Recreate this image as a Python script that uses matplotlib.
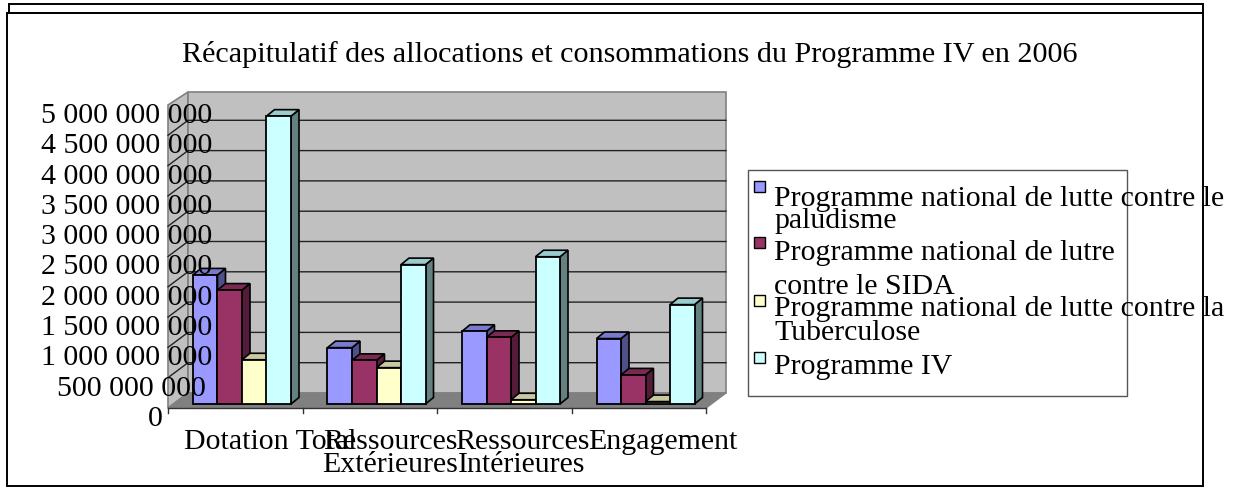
import matplotlib
matplotlib.use("Agg")
import matplotlib.pyplot as plt
from matplotlib.patches import Polygon, Rectangle
from matplotlib.transforms import ScaledTranslation

plt.rcParams.update({"font.family": "Liberation Serif"})

W, H = 1234, 488

title = "Récapitulatif des allocations et consommations du Programme IV en 2006"
categories = ["Dotation Total", "Ressources\nExtérieures", "Ressources\nIntérieures", "Engagement"]
paludisme = [2.13e9, 0.93e9, 1.20e9, 1.08e9]
sida = [1.88e9, 0.72e9, 1.10e9, 0.48e9]
tuberculose = [0.73e9, 0.60e9, 0.07e9, 0.04e9]
programme_iv = [4.75e9, 2.30e9, 2.43e9, 1.64e9]
y_ticks = [0, 5e8, 1e9, 1.5e9, 2e9, 2.5e9, 3e9, 3.5e9, 4e9, 4.5e9, 5e9]
y_labels = ["0", "500 000 000", "1 000 000 000", "1 500 000 000", "2 000 000 000", "2 500 000 000",
            "3 000 000 000", "3 500 000 000", "4 000 000 000", "4 500 000 000", "5 000 000 000"]

faces = ["#9999ff", "#993366", "#ffffcc", "#ccffff"]
sides = ["#4f4f8a", "#541c38", "#8c8c70", "#658080"]
tops = ["#7a7acc", "#7a2952", "#c9c9a0", "#99cccc"]


def fx(px):
    return px / W


def fy(py):
    return 1 - py / H


fig = plt.figure(figsize=(W / 100, H / 100), dpi=100)
ax_left, ax_right, ax_top, ax_bottom = 168, 706, 105, 408
ax = fig.add_axes([fx(ax_left), fy(ax_bottom), (ax_right - ax_left) / W, (ax_bottom - ax_top) / H])
ax.set_xlim(-0.5, 3.5)
ax.set_ylim(0, 5e9)
ax.patch.set_visible(False)
for s in ax.spines.values():
    s.set_visible(False)

# one pixel in data units
ux = 4 / (ax_right - ax_left)
uy = 5e9 / (ax_bottom - ax_top)
depth_x, depth_y = 20 * ux, 15 * uy

# walls and floor
ax.add_patch(Polygon([(-0.5, 0), (-0.5 + depth_x, depth_y), (-0.5 + depth_x, 5e9 + 13 * uy), (-0.5, 5e9)],
                     fc="#c0c0c0", ec="#808080", lw=1.2, clip_on=False, zorder=1))
ax.add_patch(Rectangle((-0.5 + depth_x, depth_y), 4, 5e9 - 2 * uy, fc="#c0c0c0", ec="#808080", lw=1.2,
                       clip_on=False, zorder=1))
ax.add_patch(Polygon([(-0.5, 0), (-0.5 + depth_x, depth_y), (3.5 + depth_x, depth_y), (3.5, 0)],
                     fc="#808080", ec="#808080", lw=1, clip_on=False, zorder=1))

# gridlines on the back wall and slanted ticks on the side wall
for v in y_ticks[1:-1]:
    ax.plot([-0.5, -0.5 + depth_x, 3.5 + depth_x], [v, v + depth_y, v + depth_y], color="#222222", lw=1,
            clip_on=False, zorder=1.2)

# floor front edge and category ticks
ax.plot([-0.5, 3.5], [0, 0], color="#333333", lw=1, clip_on=False, zorder=1.3)
for i in range(5):
    ax.plot([i - 0.5, i - 0.5], [0, -5 * uy], color="#333333", lw=1, clip_on=False, zorder=1.3)

# bars, painted left to right so the next bar hides the side of the previous one
bar_w = 24.5 * ux
bar_dx, bar_dy = 8 * ux, 6.5 * uy
base = 4 * uy
start = 25 * ux
all_series = [paludisme, sida, tuberculose, programme_iv]
for k, vals in enumerate(all_series):
    xs = [i - 0.5 + start + k * bar_w for i in range(len(vals))]
    for x0, v in zip(xs, vals):
        x1 = x0 + bar_w
        top = base + v
        ax.add_patch(Polygon([(x1, base), (x1 + bar_dx, base + bar_dy), (x1 + bar_dx, top + bar_dy), (x1, top)],
                             fc=sides[k], ec="black", lw=1.2, clip_on=False, zorder=2))
        ax.add_patch(Polygon([(x0, top), (x0 + bar_dx, top + bar_dy), (x1 + bar_dx, top + bar_dy), (x1, top)],
                             fc=tops[k], ec="black", lw=1.2, clip_on=False, zorder=2))
    ax.bar(xs, vals, bottom=base, width=bar_w, align="edge", color=faces[k], edgecolor="black", lw=1.3,
           clip_on=False, zorder=2)

# y tick labels sit over the wall, as in the picture
ax.set_yticks(y_ticks, y_labels, fontsize=21.5)
ax.tick_params(axis="y", length=0, pad=-32)
ax.set_xticks([])
ax.set_axisbelow(False)
for lab, txt in zip(ax.get_yticklabels(), y_labels):
    dx = -50 if txt == "0" else (-7 if txt == "500 000 000" else 0)
    lab.set_transform(lab.get_transform() + ScaledTranslation(dx / 100, -8 / 100, fig.dpi_scale_trans))

# category labels
for cx, cat in zip([270, 390, 522, 663], categories):
    fig.text(fx(cx), fy(429), cat, fontsize=21.5, ha="center", va="top", linespacing=0.85)

fig.text(fx(630), fy(54), title, fontsize=21.7, ha="center", va="center")

# legend
fig.add_artist(Rectangle((fx(748), fy(396)), (1127 - 748) / W, (396 - 170) / H, fc="white", ec="#555555", lw=1,
                         transform=fig.transFigure, zorder=0.5))
legend_lines = [("Programme national de lutte contre le", 199), ("paludisme", 221),
                ("Programme national de lutre", 253), ("contre le SIDA", 287),
                ("Programme national de lutte contre la", 309), ("Tuberculose", 333),
                ("Programme IV", 367)]
for txt, y in legend_lines:
    fig.text(fx(774), fy(y), txt, fontsize=21.5, ha="left", va="center", zorder=5)
for col, y in zip(faces, [187, 243, 301, 358]):
    fig.add_artist(Rectangle((fx(754), fy(y + 5)), 11 / W, 11 / H, fc=col, ec="black", lw=1,
                             transform=fig.transFigure, zorder=4))

# page frames
for x0, y0, x1, y1 in [(9, 4, 1203, 13), (7, 13, 1203, 486)]:
    fig.add_artist(Rectangle((fx(x0), fy(y1)), (x1 - x0) / W, (y1 - y0) / H, fc="none", ec="black", lw=1.4,
                             transform=fig.transFigure, zorder=6))

fig.savefig("out.png", dpi=100)
